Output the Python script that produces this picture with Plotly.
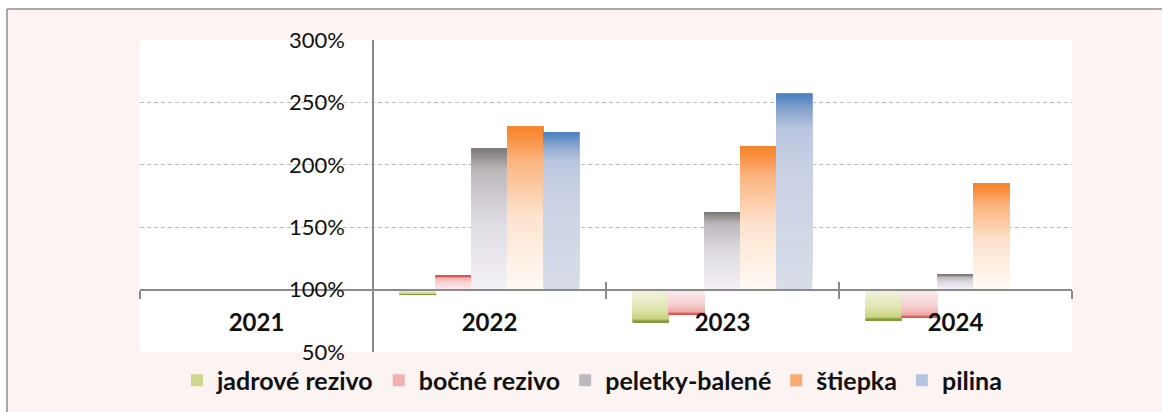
import plotly.graph_objects as go

# ---------------- data ----------------
years = ["2021", "2022", "2023", "2024"]
jadrove_rezivo = [100, 96, 74, 75.5]
bocne_rezivo = [100, 111, 80, 77.5]
peletky_balene = [100, 213, 162, 112]
stiepka = [100, 230.5, 215, 185]
pilina = [100, 226, 257, 100]
series_names = ["jadrové rezivo", "bočné rezivo", "peletky-balené", "štiepka", "pilina"]
series_values = [jadrove_rezivo, bocne_rezivo, peletky_balene, stiepka, pilina]
y_ticks = [50, 100, 150, 200, 250, 300]
y_tick_labels = ["50%", "100%", "150%", "200%", "250%", "300%"]
baseline = 100

# ---------------- styles ----------------
# gradient stops: t = 0 at the 100 % baseline, t = 1 at the bar end
gradients = [
    [(0.0, "#f3f3e2"), (0.55, "#e2e6b4"), (0.9, "#c9d37f"), (1.0, "#7f953a")],
    [(0.0, "#fbedef"), (0.55, "#f6d2d4"), (0.9, "#f0a9a8"), (1.0, "#d9504c")],
    [(0.0, "#f4f1f6"), (0.5, "#dedae2"), (0.85, "#bcb7bb"), (1.0, "#7d7876")],
    [(0.0, "#fffaf5"), (0.45, "#fde3cf"), (0.8, "#fbb37c"), (0.93, "#f8903f"), (1.0, "#f6842c")],
    [(0.0, "#d9dde9"), (0.6, "#cad1e4"), (0.82, "#bac6df"), (0.92, "#86a4cd"), (1.0, "#4a7fc0")],
]
FONT = "Lato"
AXIS_COL = "#8a8a8a"
K = 72  # gradient layers per bar


def hex2rgb(h):
    h = h.lstrip("#")
    return [int(h[i:i + 2], 16) for i in (0, 2, 4)]


def grad_color(stops, t):
    for (t0, c0), (t1, c1) in zip(stops[:-1], stops[1:]):
        if t <= t1:
            f = 0 if t1 == t0 else (t - t0) / (t1 - t0)
            a, b = hex2rgb(c0), hex2rgb(c1)
            r = [round(a[j] + (b[j] - a[j]) * f) for j in range(3)]
            return "rgb(%d,%d,%d)" % tuple(r)
    return stops[-1][1]


fig = go.Figure()
for i, (name, vals) in enumerate(zip(series_names, series_values)):
    d = [v - baseline for v in vals]
    for k in range(K):
        s = k / K
        tmid = (k + 0.5) / K
        leg = k == int(K * 0.82)
        fig.add_trace(go.Bar(
            x=years,
            y=[dd * (1 - s) for dd in d],
            base=[baseline + dd * s for dd in d],
            offsetgroup=str(i),
            name=name,
            legendgroup=name,
            legendrank=i + 1,
            showlegend=leg,
            marker=dict(color=grad_color(gradients[i], tmid), line=dict(width=0)),
            hoverinfo="skip" if not leg else None,
            customdata=vals,
            hovertemplate="%{x}: %{customdata}%<extra>" + name + "</extra>" if leg else None,
        ))

# empty helper trace so that the second (tick-only) x axis is drawn
fig.add_trace(go.Scatter(x=[], y=[], xaxis="x2", yaxis="y", showlegend=False, hoverinfo="skip"))

ymin, ymax = y_ticks[0], y_ticks[-1]
xpos = (baseline - ymin) / (ymax - ymin)

W, H = 1162, 412
ML, MR, MT, MB = 140, 90, 40, 60
pw, ph = W - ML - MR, H - MT - MB


def px_x(p):
    return (p - ML) / pw


def px_y(p):
    return (H - MB - p) / ph


shapes = [
    dict(type="rect", xref="paper", yref="paper", x0=px_x(-20), x1=px_x(7), y0=px_y(H + 20), y1=px_y(-20),
         fillcolor="white", line=dict(width=0), layer="below"),
    dict(type="rect", xref="paper", yref="paper", x0=px_x(-20), x1=px_x(W + 20), y0=px_y(9), y1=px_y(-20),
         fillcolor="white", line=dict(width=0), layer="below"),
    dict(type="line", xref="paper", yref="paper", x0=px_x(7), x1=px_x(W + 20), y0=px_y(9), y1=px_y(9),
         line=dict(color="#8c8c8c", width=1.5)),
    dict(type="line", xref="paper", yref="paper", x0=px_x(7), x1=px_x(7), y0=px_y(9), y1=px_y(H + 20),
         line=dict(color="#8c8c8c", width=1.5)),
]

fig.update_layout(
    width=W, height=H,
    margin=dict(l=ML, r=MR, t=MT, b=MB, autoexpand=False),
    paper_bgcolor="#fcf3f3",
    plot_bgcolor="white",
    barmode="group", bargap=0.23, bargroupgap=0,
    shapes=shapes,
    legend=dict(orientation="h", x=0.485, xanchor="center", y=-0.018, yanchor="top",
                font=dict(family=FONT, size=25, color="#111111", weight="bold"),
                bgcolor="rgba(0,0,0,0)", traceorder="normal"),
    xaxis=dict(type="category", categoryorder="array", categoryarray=years, range=[-0.5, len(years) - 0.5],
               anchor="free", position=xpos, showline=True, linecolor=AXIS_COL, linewidth=2,
               ticks="outside", tickson="boundaries", ticklen=8, tickwidth=1.5, tickcolor=AXIS_COL,
               showgrid=False, ticklabelstandoff=12,
               tickfont=dict(family=FONT, size=24, color="#111111", weight="bold")),
    xaxis2=dict(overlaying="x", anchor="free", position=xpos, range=[-0.5, len(years) - 0.5],
                tickmode="array", tickvals=[i - 0.5 for i in range(len(years) + 1)], ticks="inside",
                ticklen=8, tickwidth=1.5, tickcolor=AXIS_COL, showticklabels=False, showgrid=False,
                showline=False, zeroline=False),
    yaxis=dict(range=[ymin, ymax], tickmode="array", tickvals=y_ticks, ticktext=y_tick_labels,
               anchor="free", position=0.25,
               showline=True, linecolor=AXIS_COL, linewidth=1.5, showgrid=True, gridcolor="#bdbdbd",
               griddash="4px,3px", gridwidth=1, zeroline=False, ticks="", ticklabelstandoff=23,
               tickfont=dict(family=FONT, size=22, color="#111111")),
)

fig.write_html("out.html", config={"displayModeBar": False},
               post_script="document.body.style.margin='0';")
